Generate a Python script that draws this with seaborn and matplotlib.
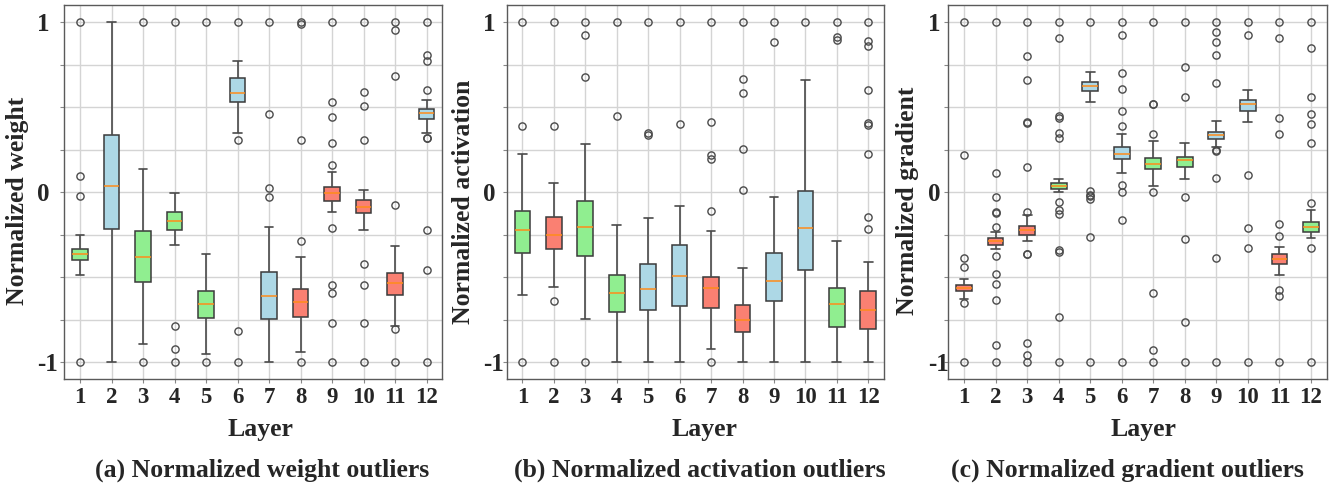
import numpy as np
import pandas as pd
import matplotlib
matplotlib.use("Agg")
import matplotlib.pyplot as plt
import seaborn as sns
from matplotlib.ticker import FixedLocator, MultipleLocator

sns.set_theme(style="white")
plt.rcParams["font.family"] = ["Liberation Serif", "DejaVu Serif"]
plt.rcParams["font.weight"] = "bold"

layers = [str(i) for i in range(1, 13)]

# ---------------- Panel (a): weight ----------------
colors_a = ["g", "b", "g", "g", "g", "b", "b", "r", "r", "r", "r", "b"]
q1_a = [-0.401, -0.217, -0.53, -0.225, -0.742, 0.530, -0.745, -0.735, -0.053, -0.121, -0.605, 0.427]
med_a = [-0.364, 0.033, -0.382, -0.170, -0.659, 0.585, -0.609, -0.648, -0.008, -0.086, -0.538, 0.462]
q3_a = [-0.333, 0.337, -0.229, -0.119, -0.583, 0.671, -0.47, -0.57, 0.027, -0.049, -0.479, 0.490]
wlo_a = [-0.487, -1.0, -0.896, -0.311, -0.951, 0.346, -1.0, -0.943, -0.117, -0.225, -0.79, 0.349]
whi_a = [-0.254, 1.0, 0.137, -0.006, -0.364, 0.773, -0.207, -0.382, 0.119, 0.010, -0.315, 0.544]
out_a = [
    [1, 0.094, -0.023, -1],
    [],
    [1, -1],
    [1, -0.787, -0.922, -1],
    [1, -1],
    [1, 0.305, -0.82, -1],
    [1, 0.46, 0.023, -0.03],
    [1, 0.99, 0.305, -0.286, -1],
    [1, 0.528, 0.444, 0.288, 0.16, -0.209, -0.546, -0.595, -0.773, -1],
    [1, 0.591, 0.503, 0.305, -0.423, -0.546, -0.773, -1],
    [1, 0.951, 0.681, -0.074, -0.805, -1],
    [1, 0.804, 0.769, 0.599, 0.32, 0.315, -0.225, -0.456, -1],
]

# ---------------- Panel (b): activation ----------------
colors_b = ["g", "r", "g", "g", "b", "b", "r", "r", "b", "b", "g", "r"]
q1_b = [-0.356, -0.337, -0.376, -0.706, -0.697, -0.669, -0.683, -0.822, -0.644, -0.456, -0.796, -0.808]
med_b = [-0.223, -0.250, -0.204, -0.593, -0.573, -0.495, -0.566, -0.751, -0.523, -0.213, -0.659, -0.693]
q3_b = [-0.112, -0.145, -0.055, -0.491, -0.423, -0.309, -0.499, -0.665, -0.358, 0.008, -0.566, -0.585]
wlo_b = [-0.603, -0.558, -0.748, -1, -1, -1, -0.922, -1, -1, -1, -1, -1]
whi_b = [0.223, 0.051, 0.282, -0.196, -0.151, -0.082, -0.23, -0.448, -0.027, 0.656, -0.290, -0.413]
out_b = [
    [1, 0.386, -1],
    [1, 0.386, -0.642, -1],
    [1, 0.926, 0.677, -1],
    [1, 0.448],
    [1, 0.35, 0.337],
    [1, 0.401],
    [1, 0.411, 0.217, 0.192, -0.112, -1],
    [1, 0.665, 0.585, 0.252, 0.010],
    [1, 0.881],
    [1],
    [1, 0.912, 0.892],
    [1, 0.888, 0.861, 0.599, 0.403, 0.393, 0.223, -0.145, -0.217],
]

# ---------------- Panel (c): gradient ----------------
colors_c = ["r", "r", "r", "g", "b", "b", "g", "g", "b", "b", "r", "g"]
q1_c = [-0.585, -0.31, -0.25, 0.018, 0.595, 0.192, 0.133, 0.145, 0.312, 0.476, -0.424, -0.233]
med_c = [-0.565, -0.29, -0.226, 0.037, 0.622, 0.223, 0.166, 0.188, 0.333, 0.515, -0.395, -0.204]
q3_c = [-0.548, -0.27, -0.20, 0.055, 0.646, 0.262, 0.201, 0.207, 0.355, 0.540, -0.366, -0.174]
wlo_c = [-0.630, -0.335, -0.286, -0.002, 0.530, 0.110, 0.037, 0.076, 0.265, 0.411, -0.489, -0.272]
whi_c = [-0.513, -0.235, -0.135, 0.076, 0.706, 0.341, 0.30, 0.286, 0.417, 0.599, -0.321, -0.106]
out_c = [
    [1, 0.217, -0.389, -0.440, -0.650, -1],
    [1, 0.110, -0.028, -0.115, -0.121, -0.205, -0.375, -0.483, -0.542, -0.634, -0.900, -1],
    [1, 0.799, 0.656, 0.413, 0.407, 0.145, -0.115, -0.362, -0.366, -0.888, -0.959, -1],
    [1, 0.906, 0.446, 0.433, 0.348, 0.317, -0.061, -0.106, -0.127, -0.341, -0.354, -0.734, -1],
    [1, 0.008, -0.015, -0.025, -0.043, -0.262, -1],
    [1, 0.922, 0.699, 0.607, 0.477, 0.39, 0.043, 0.002, -0.166, -1],
    [1, 0.52, 0.515, 0.341, 0.0, -0.595, -0.932, -1],
    [1, 0.735, 0.556, -0.028, -0.274, -0.765, -1],
    [1, 0.939, 0.881, 0.808, 0.641, 0.245, 0.24, 0.082, -0.389, -1],
    [1, 0.922, 0.101, -0.213, -0.331, -1],
    [1, 0.906, 0.433, 0.341, -0.19, -0.261, -0.579, -0.609, -1],
    [1, 0.847, 0.56, 0.46, 0.401, 0.29, -0.066, -0.331, -1],
]

ylabels = ["Normalized weight", "Normalized activation", "Normalized gradient"]
titles = ["(a) Normalized weight outliers", "(b) Normalized activation outliers",
          "(c) Normalized gradient outliers"]

COLOR_MAP = {"g": "#90EE90", "b": "#ADD8E6", "r": "#FA8072"}


def build_frame(q1, med, q3, wlo, whi, outs, k=200):
    rows = []
    for lay, a, m, b, lo, hi, o in zip(layers, q1, med, q3, wlo, whi, outs):
        vals = list(o) + [lo, hi] + [a] * k + [m] * k + [b] * k
        rows.extend((lay, v) for v in vals)
    return pd.DataFrame(rows, columns=["Layer", "Value"])


panels = [
    (q1_a, med_a, q3_a, wlo_a, whi_a, out_a, colors_a),
    (q1_b, med_b, q3_b, wlo_b, whi_b, out_b, colors_b),
    (q1_c, med_c, q3_c, wlo_c, whi_c, out_c, colors_c),
]

W, H = 1340, 487
fig = plt.figure(figsize=(W / 100, H / 100), dpi=100)

ax_lefts = [64.3, 506.7, 948.3]
ax_widths = [378.0, 377.3, 378.4]
ax_top, ax_bot = 5, 379
ylab_x = [-0.093, -0.084, -0.077]
ylab_y = [0.476, 0.474, 0.477]
xlab_x = [0.518, 0.524, 0.517]
ytick_pad = [16.9, 13.8, 11.4]
title_x = [261.7, 700.0, 1127.5]

for i, (q1, med, q3, wlo, whi, outs, cols) in enumerate(panels):
    ax = fig.add_axes([ax_lefts[i] / W, (H - ax_bot) / H, ax_widths[i] / W, (ax_bot - ax_top) / H])
    df = build_frame(q1, med, q3, wlo, whi, outs)
    pal = {lay: COLOR_MAP[c] for lay, c in zip(layers, cols)}
    sns.boxplot(
        data=df, x="Layer", y="Value", hue="Layer", order=layers, hue_order=layers,
        palette=pal, legend=False, width=0.5, saturation=1, ax=ax,
        linecolor="#3a3a3a", linewidth=1.1,
        flierprops=dict(marker="o", markerfacecolor="none", markeredgecolor="#4a4a4a",
                        markersize=5.2, markeredgewidth=1.0),
        medianprops=dict(color="#ff8c1a", linewidth=1.1),
        whiskerprops=dict(color="#4a4a4a", linewidth=1.2),
        capprops=dict(color="#4a4a4a", linewidth=1.2),
        capwidths=0.28,
    )
    ax.set_xlim(-0.5, 11.5)
    ax.set_ylim(-1.1, 1.1)
    ax.yaxis.set_major_locator(FixedLocator([-1, 0, 1]))
    ax.yaxis.set_minor_locator(MultipleLocator(0.25))
    ax.set_yticklabels(["-1", "0", "1"])
    ax.set_axisbelow(True)
    ax.grid(True, which="both", axis="y", color="#d4d4d4", linewidth=1)
    ax.grid(True, which="major", axis="x", color="#d4d4d4", linewidth=1)
    ax.tick_params(axis="y", which="both", left=True, length=3, width=0.8, color="#888888")
    ax.tick_params(axis="y", which="major", labelsize=18, pad=ytick_pad[i])
    ax.tick_params(axis="x", bottom=True, length=3, width=0.8, color="#888888", labelsize=16.5, pad=3)
    for lab in ax.get_yticklabels():
        lab.set_horizontalalignment("left")
        lab.set_fontweight("bold")
    for lab in ax.get_xticklabels():
        lab.set_fontweight("bold")
    for sp in ax.spines.values():
        sp.set_color("#5a5a5a")
        sp.set_linewidth(1.0)
    ax.set_xlabel("Layer", fontsize=18.5, fontweight="bold")
    ax.xaxis.set_label_coords(xlab_x[i], -0.105)
    ax.set_ylabel(ylabels[i], fontsize=18.5, fontweight="bold")
    ax.yaxis.set_label_coords(ylab_x[i], ylab_y[i])
    fig.text(title_x[i] / W, (H - 477) / H, titles[i], ha="center", va="baseline",
             fontsize=18.5, fontweight="bold")

fig.savefig("out.png", dpi=100)
